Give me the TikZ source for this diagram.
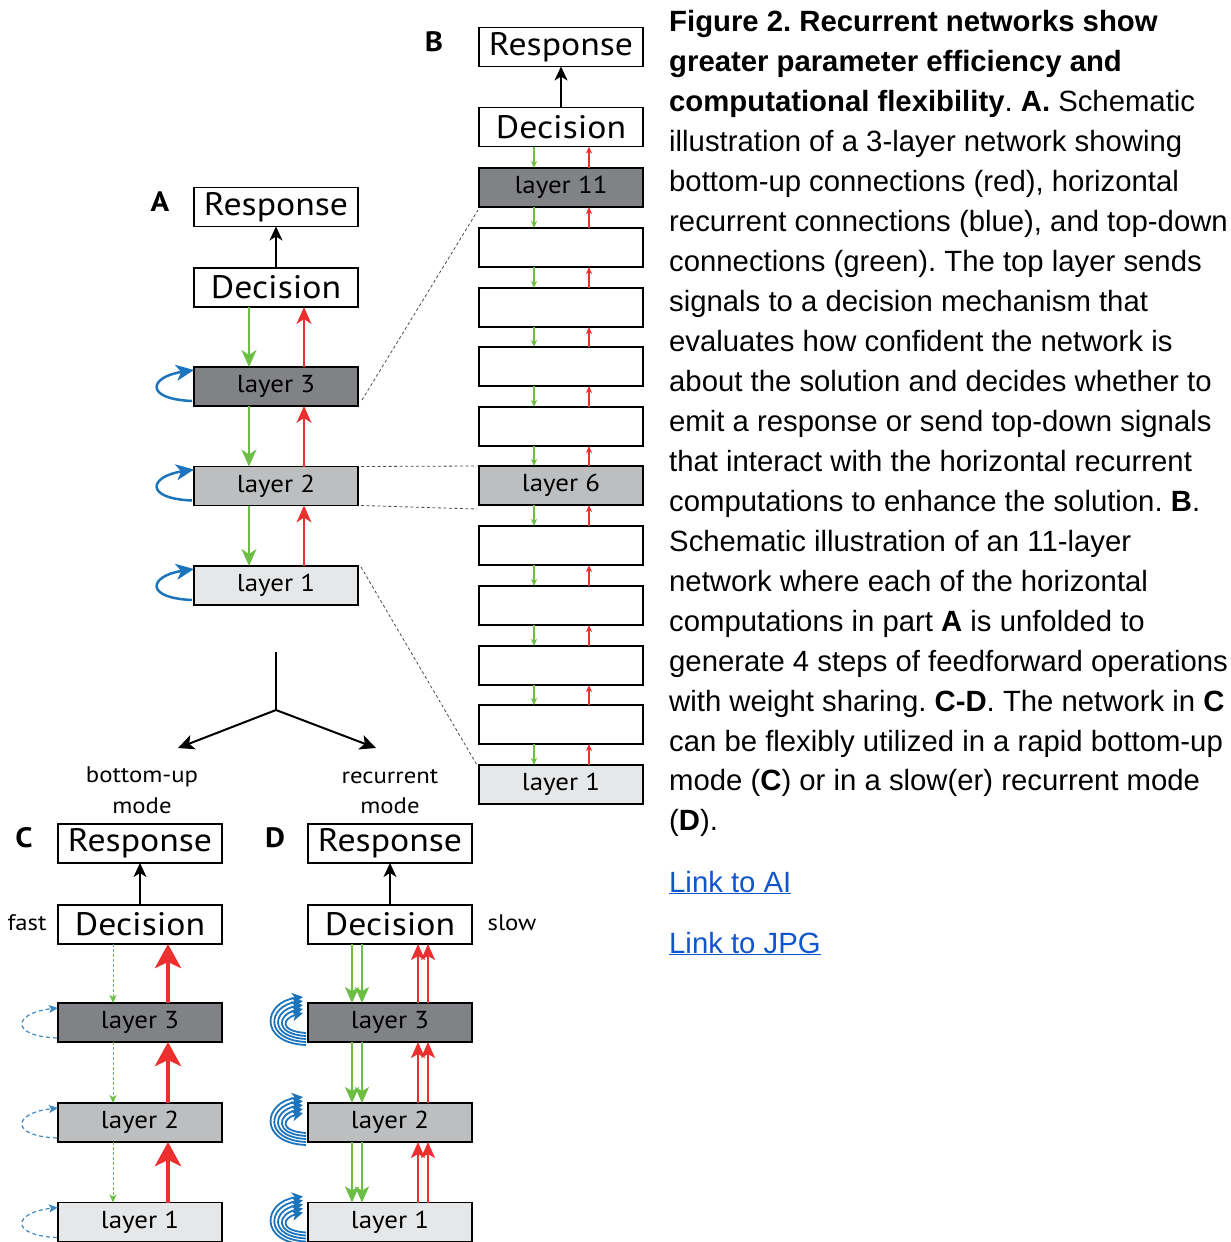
\documentclass[tikz,border=0pt]{standalone}
\usepackage{fontspec}
\setmainfont{Liberation Sans}
\newfontfamily\dg[FakeStretch=1.1]{PT Sans}
\usetikzlibrary{arrows.meta,calc}
\definecolor{gr}{HTML}{6DBE45}
\definecolor{rd}{HTML}{EC2F2F}
\definecolor{bl}{HTML}{1C75BC}
\definecolor{gdark}{HTML}{808285}
\definecolor{gmid}{HTML}{BCBEC0}
\definecolor{glight}{HTML}{E6E7E8}
\definecolor{lnk}{HTML}{1155CC}
\frenchspacing
\tikzset{
 box/.style={draw=black,line width=1.4pt,minimum width=164pt,minimum height=39pt,inner sep=0pt,outer sep=0pt,fill=white,font=\dg\fontsize{32.5}{32.5}\selectfont},
 lay/.style={box,font=\dg\fontsize{24.5}{24.5}\selectfont},
 darkfill/.style={fill=gdark},
 midfill/.style={fill=gmid},
 lightfill/.style={fill=glight},
 plabel/.style={font=\dg\bfseries\fontsize{28}{28}\selectfont,inner sep=0pt},
 mlabel/.style={font=\dg\fontsize{22.5}{22.5}\selectfont,inner sep=0pt},
 ka/.style={draw=black,line width=1.8pt,-{Stealth[length=14pt,width=13pt,inset=4pt]}},
 ga/.style={draw=gr,line width=2pt,-{Stealth[length=17pt,width=15pt,inset=5pt]}},
 ra/.style={draw=rd,line width=2pt,-{Stealth[length=17pt,width=15pt,inset=5pt]}},
 gs/.style={draw=gr,line width=1.3pt,-{Stealth[length=7pt,width=6pt,inset=2pt]}},
 rs/.style={draw=rd,line width=1.3pt,-{Stealth[length=7pt,width=6pt,inset=2pt]}},
 gd/.style={draw=gr,line width=1pt,dash pattern=on 3pt off 2pt,-{Stealth[length=8pt,width=7pt,inset=2pt]}},
 rt/.style={draw=rd,line width=4.5pt,-{Stealth[length=24pt,width=26pt,inset=6pt]}},
 gw/.style={draw=gr,line width=2pt,-{Stealth[length=16pt,width=14pt,inset=4pt]}},
 rw/.style={draw=rd,line width=2pt,-{Stealth[length=16pt,width=14pt,inset=4pt]}},
 lp/.style={draw=bl,line width=2.5pt,-{Stealth[length=18pt,width=16pt,inset=5pt]}},
 lpd/.style={draw=bl!85!white,line width=1.2pt,dash pattern=on 4pt off 3pt,-{Stealth[length=9pt,width=8pt,inset=2pt]}},
 lpm/.style={draw=bl,line width=1.8pt,-{Stealth[length=11pt,width=11pt,inset=3pt]}},
 dl/.style={draw=black!70,line width=0.8pt,dash pattern=on 3pt off 2.5pt},
 splitarrow/.style={draw=black,line width=2pt,-{Stealth[length=16pt,width=15pt,inset=4pt]}},
 captxt/.style={anchor=base west,inner sep=0pt,font=\fontsize{29.3}{35}\selectfont},
}
\begin{document}
\begin{tikzpicture}[x=1pt,y=-1pt]
\useasboundingbox (0,0) rectangle (1231,1242);
% ---------- Panel A ----------
\node[plabel] (la) at (160,202) {A};
\node[box] (aR) at (276,207) {Response};
\node[box] (aD) at (276,287.5) {Decision};
\node[lay,darkfill] (a3) at (276,386.5) {layer 3};
\node[lay,midfill] (a2) at (276,486) {layer 2};
\node[lay,lightfill] (a1) at (276,585.5) {layer 1};
\draw[ka] (aD.north) -- (aR.south);
\foreach \u/\l in {aD/a3,a3/a2,a2/a1}{
  \draw[ga] ([xshift=-27pt]\u.south) -- ([xshift=-27pt]\l.north);
  \draw[ra] ([xshift=28pt]\l.north) -- ([xshift=28pt]\u.south);
}
\foreach \n in {a3,a2,a1}{
  \draw[lp] ($(\n.south west)+(-2,-5)$) .. controls +(-48,-2) and +(-45,7) .. ($(\n.north west)+(0,3)$);
}
% ---------- Panel B ----------
\node[plabel] (lb) at (434,42) {B};
\node[box] (bR) at (561,47) {Response};
\node[box] (bD) at (561,127) {Decision};
\node[lay,darkfill] (b11) at (561,187.5) {layer 11};
\node[lay] (b10) at (561,247.5) {};
\node[lay] (b9) at (561,307.5) {};
\node[lay] (b8) at (561,366.5) {};
\node[lay] (b7) at (561,426.5) {};
\node[lay,midfill] (b6) at (561,485.5) {layer 6};
\node[lay] (b5) at (561,545.5) {};
\node[lay] (b4) at (561,605.5) {};
\node[lay] (b3) at (561,665.5) {};
\node[lay] (b2) at (561,724.5) {};
\node[lay,lightfill] (b1) at (561,784.5) {layer 1};
\draw[ka] (bD.north) -- (bR.south);
\foreach \u/\l in {bD/b11,b11/b10,b10/b9,b9/b8,b8/b7,b7/b6,b6/b5,b5/b4,b4/b3,b3/b2,b2/b1}{
  \draw[gs] ([xshift=-27pt]\u.south) -- ([xshift=-27pt]\l.north);
  \draw[rs] ([xshift=28pt]\l.north) -- ([xshift=28pt]\u.south);
}
% dashed links A -> B
\draw[dl] ($(a3.south east)+(4,-6)$) -- ($(b11.south west)+(-1,3)$);
\draw[dl] ($(a2.north east)+(3,0)$) -- ($(b6.north west)+(-2,0)$);
\draw[dl] ($(a2.south east)+(3,0)$) -- ($(b6.south west)+(-2,4)$);
\draw[dl] ($(a1.north east)+(3,1)$) -- ($(b1.north west)+(-2,0)$);
% ---------- Split ----------
\coordinate (t0) at (276,652);
\coordinate (t1) at (276,710);
\coordinate (tl) at (178,748);
\coordinate (trr) at (376,748);
\draw[draw=black,line width=2pt] (t0) -- (t1);
\draw[splitarrow] (t1) -- (tl);
\draw[splitarrow] (t1) -- (trr);
\node[mlabel] (m1) at (142,777) {bottom-up};
\node[mlabel] (m2) at (142,806) {mode};
\node[mlabel] (m3) at (390,777) {recurrent};
\node[mlabel] (m4) at (390,806) {mode};
% ---------- Panel C ----------
\node[plabel] (lc) at (24,838) {C};
\node[box] (cR) at (140,843.5) {Response};
\node[box] (cD) at (140,924.5) {Decision};
\node[mlabel] (fast) at (27,923) {fast};
\node[lay,darkfill] (c3) at (140,1022.5) {layer 3};
\node[lay,midfill] (c2) at (140,1122.5) {layer 2};
\node[lay,lightfill] (c1) at (140,1222) {layer 1};
\draw[ka] (cD.north) -- (cR.south);
\foreach \u/\l in {cD/c3,c3/c2,c2/c1}{
  \draw[gd] ([xshift=-27pt]\u.south) -- ([xshift=-27pt]\l.north);
  \draw[rt] ([xshift=28pt]\l.north) -- ([xshift=28pt]\u.south);
}
\foreach \n in {c3,c2,c1}{
  \draw[lpd] ($(\n.south west)+(-1,-4)$) .. controls +(-48,-2) and +(-45,5) .. ($(\n.north west)+(0,5)$);
}
% ---------- Panel D ----------
\node[plabel] (ld) at (275,838) {D};
\node[box] (dR) at (390,843.5) {Response};
\node[box] (dD) at (390,924.5) {Decision};
\node[mlabel] (slow) at (512,923) {slow};
\node[lay,darkfill] (d3) at (390,1022.5) {layer 3};
\node[lay,midfill] (d2) at (390,1122.5) {layer 2};
\node[lay,lightfill] (d1) at (390,1222) {layer 1};
\draw[ka] (dD.north) -- (dR.south);
\foreach \u/\l in {dD/d3,d3/d2,d2/d1}{
  \draw[gw] ([xshift=-38pt]\u.south) -- ([xshift=-38pt]\l.north);
  \draw[gw] ([xshift=-28pt]\u.south) -- ([xshift=-28pt]\l.north);
  \draw[rw] ([xshift=28pt]\l.north) -- ([xshift=28pt]\u.south);
  \draw[rw] ([xshift=38pt]\l.north) -- ([xshift=38pt]\u.south);
}
\foreach \n in {d3,d2,d1}{
  \foreach \k in {0,...,4}{
    \draw[lpm] ($(\n.south west)+(-2,3-3*\k)$) .. controls +(-48+5*\k,-2) and +(-40+5*\k,5) .. ($(\n.north west)+(-5,-6+4*\k)$);
  }
}
% ---------- Caption ----------
\node[captxt] (cap1) at (669,31) {\textbf{Figure 2. Recurrent networks show}};
\node[captxt] (cap2) at (669,71) {\textbf{greater parameter efficiency and}};
\node[captxt] (cap3) at (669,111) {\textbf{computational flexibility}. \textbf{A.} Schematic};
\node[captxt] (cap4) at (669,151) {illustration of a 3-layer network showing};
\node[captxt] (cap5) at (669,191) {bottom-up connections (red), horizontal};
\node[captxt] (cap6) at (669,231) {recurrent connections (blue), and top-down};
\node[captxt] (cap7) at (669,271) {connections (green). The top layer sends};
\node[captxt] (cap8) at (669,311) {signals to a decision mechanism that};
\node[captxt] (cap9) at (669,351) {evaluates how confident the network is};
\node[captxt] (cap10) at (669,391) {about the solution and decides whether to};
\node[captxt] (cap11) at (669,431) {emit a response or send top-down signals};
\node[captxt] (cap12) at (669,471) {that interact with the horizontal recurrent};
\node[captxt] (cap13) at (669,511) {computations to enhance the solution. \textbf{B}.};
\node[captxt] (cap14) at (669,551) {Schematic illustration of an 11-layer};
\node[captxt] (cap15) at (669,591) {network where each of the horizontal};
\node[captxt] (cap16) at (669,631) {computations in part \textbf{A} is unfolded to};
\node[captxt] (cap17) at (669,671) {generate 4 steps of feedforward operations};
\node[captxt] (cap18) at (669,711) {with weight sharing. \textbf{C-D}. The network in \textbf{C}};
\node[captxt] (cap19) at (669,751) {can be flexibly utilized in a rapid bottom-up};
\node[captxt] (cap20) at (669,790) {mode (\textbf{C}) or in a slow(er) recurrent mode};
\node[captxt] (cap21) at (669,830) {(\textbf{D}).};
\node[captxt,text=lnk] (lk1) at (669,892) {\underline{Link to AI}};
\node[captxt,text=lnk] (lk2) at (669,953) {\underline{Link to JPG}};
\end{tikzpicture}
\end{document}
